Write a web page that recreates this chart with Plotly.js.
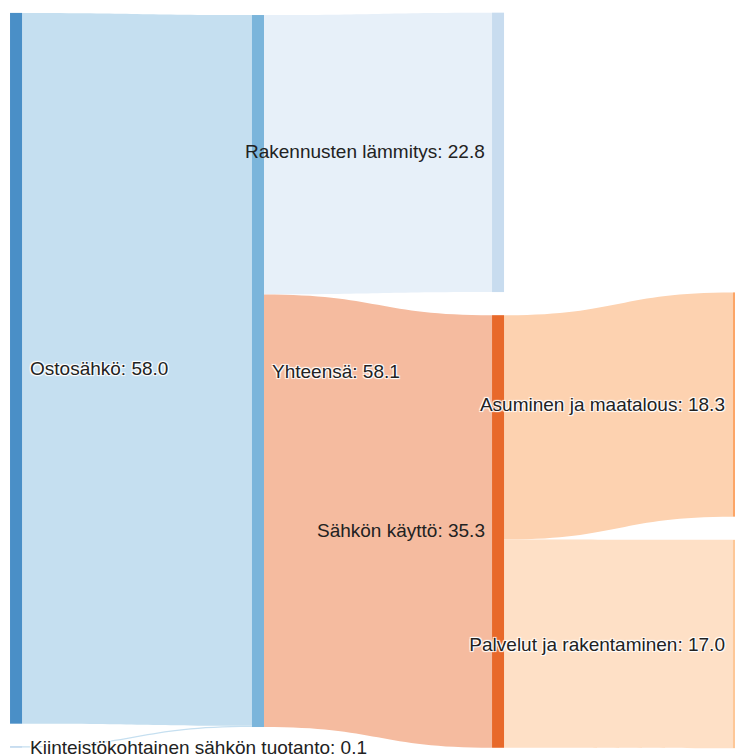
<!DOCTYPE html>
<html>
<head>
<meta charset="utf-8">
<script src="https://cdn.plot.ly/plotly-3.0.1.min.js"></script>
<style>
html, body { margin: 0; padding: 0; overflow: hidden; background: #fff; }
#chart { width: 755px; height: 756px; }
</style>
</head>
<body>
<div id="chart"></div>
<script>
// Nodes
var nodeNames = [
  "Ostosähkö",
  "Kiinteistökohtainen sähkön tuotanto",
  "Yhteensä",
  "Rakennusten lämmitys",
  "Sähkön käyttö",
  "Asuminen ja maatalous",
  "Palvelut ja rakentaminen"
];
var nodeValues = [58.0, 0.1, 58.1, 22.8, 35.3, 18.3, 17.0];
var nodeColors = ["#4a8fc7", "#a9cbe8", "#7bb5db", "#c8dcef", "#e8692a", "#fca566", "#fdc797"];
// node centre positions (fractions of the plot area)
var nodeX = [0.0082, 0.0082, 0.3374, 0.664, 0.664, 0.9918, 0.9918];
var nodeY = [0.4834, 0.9986, 0.4871, 0.1896, 0.7054, 0.5327, 0.8585];
// which labels sit on the left side of their node (middle-right column)
var labelLeft = [false, false, false, true, true, false, false];

// Links
var linkSource = [0, 1, 2, 2, 4, 4];
var linkTarget = [2, 2, 3, 4, 5, 6];
var linkValues = [58.0, 0.1, 22.8, 35.3, 18.3, 17.0];
var linkColors = ["#c5dff0", "#c5dff0", "#e7f0f9", "#f5bb9f", "#fdd2b0", "#fee0c6"];

var nodeLabels = nodeNames.map(function (n, i) {
  return n + ": " + nodeValues[i].toFixed(1);
});

var W = 755, Hgt = 756;
var margin = { l: 10, r: 10, t: 13, b: 8 };
var plotW = W - margin.l - margin.r;
var thickness = 12;
var fontSpec = { family: "Liberation Sans, Arial, sans-serif", size: 19, color: "#222" };

var annotations = [];
nodeLabels.forEach(function (lab, i) {
  if (labelLeft[i]) {
    annotations.push({
      xref: "paper", yref: "paper",
      x: nodeX[i] - (thickness / 2) / plotW,
      y: 1 - nodeY[i],
      xanchor: "right", yanchor: "middle",
      xshift: -6, yshift: 1,
      text: lab,
      showarrow: false,
      borderpad: 0,
      font: fontSpec
    });
  }
});

var data = [{
  type: "sankey",
  orientation: "h",
  arrangement: "fixed",
  hoverinfo: "none",
  textfont: fontSpec,
  node: {
    label: nodeLabels.map(function (l, i) { return labelLeft[i] ? "" : l; }),
    color: nodeColors,
    x: nodeX,
    y: nodeY,
    pad: 23,
    thickness: thickness,
    align: "left",
    line: { width: 10, color: "rgba(0,0,0,0)" },
    hoverinfo: "none"
  },
  link: {
    source: linkSource,
    target: linkTarget,
    value: linkValues,
    color: linkColors,
    hoverinfo: "none"
  }
}];

var layout = {
  width: W,
  height: Hgt,
  margin: margin,
  paper_bgcolor: "#fff",
  font: fontSpec,
  annotations: annotations
};

Plotly.newPlot("chart", data, layout, { displayModeBar: false, staticPlot: true });
</script>
</body>
</html>
